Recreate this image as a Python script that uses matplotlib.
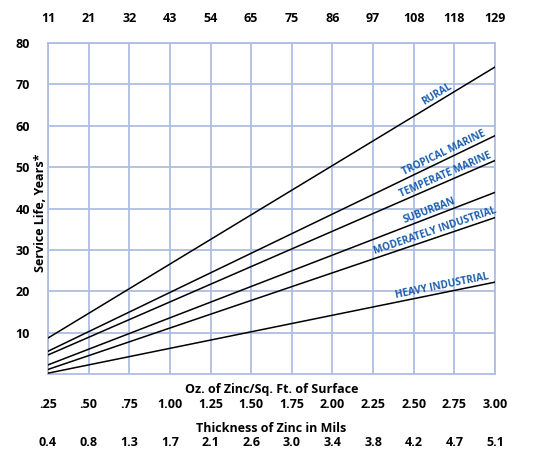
"""Service life of zinc coatings vs. coating weight."""

import matplotlib
matplotlib.use('Agg')
import matplotlib.pyplot as plt
import matplotlib.transforms as mtransforms
import numpy as np

# x positions: ounces of zinc per sq. ft.
oz = [0.25, 0.50, 0.75, 1.00, 1.25, 1.50, 1.75, 2.00, 2.25, 2.50, 2.75, 3.00]
oz_labels = ['.25', '.50', '.75', '1.00', '1.25', '1.50', '1.75', '2.00',
             '2.25', '2.50', '2.75', '3.00']
top_labels = ['11', '21', '32', '43', '54', '65', '75', '86', '97', '108',
              '118', '129']
mils_labels = ['0.4', '0.8', '1.3', '1.7', '2.1', '2.6', '3.0', '3.4', '3.8',
               '4.2', '4.7', '5.1']

# service life (years) at .25 and 3.00 oz
env_names = ['RURAL', 'TROPICAL MARINE', 'TEMPERATE MARINE', 'SUBURBAN',
             'MODERATELY INDUSTRIAL', 'HEAVY INDUSTRIAL']
life_start = [8.7, 5.5, 4.6, 2.2, 1.1, 0.2]
life_end = [74.2, 57.6, 51.6, 43.9, 37.8, 22.2]

y_ticks = [10, 20, 30, 40, 50, 60, 70, 80]

label_x = [2.66, 2.70, 2.71, 2.61, 2.64, 2.68]

grid_color = '#aebde2'
blue = '#1d5fae'
plt.rcParams['font.family'] = ['Open Sans', 'DejaVu Sans']
fs = 9

fig = plt.figure(figsize=(5.39, 4.53), dpi=100)
W, H = 539, 453
ax = fig.add_axes([48 / W, (H - 374) / H, (495 - 48) / W, (374 - 43) / H])
ax.set_xlim(0.25, 3.00)
ax.set_ylim(0, 80)

for x in oz:
    ax.axvline(x, color=grid_color, lw=1.3, zorder=1)
for y in y_ticks:
    ax.axhline(y, color=grid_color, lw=1.3, zorder=1)
for s in ax.spines.values():
    s.set_color(grid_color)
    s.set_linewidth(1.3)

xs = [oz[0], oz[-1]]
for name, y0, y1, lx in zip(env_names, life_start, life_end, label_x):
    ax.plot(xs, [y0, y1], color='black', lw=1.1, zorder=3)
    ly = y0 + (lx - xs[0]) / (xs[1] - xs[0]) * (y1 - y0)
    p0 = ax.transData.transform((xs[0], y0))
    p1 = ax.transData.transform((xs[1], y1))
    ang = np.degrees(np.arctan2(p1[1] - p0[1], p1[0] - p0[0]))
    ax.annotate(name, (lx, ly), xytext=(0, 1.0), textcoords='offset points',
                rotation=ang, rotation_mode='anchor', ha='center',
                va='bottom', color=blue, fontsize=7.2, fontweight='bold',
                zorder=4)

ax.set_yticks(y_ticks)
ax.set_yticklabels([str(v) for v in y_ticks], fontsize=fs, fontweight='bold')
ax.tick_params(axis='y', length=0, pad=13)

ax.set_xticks(oz)
ax.set_xticklabels(oz_labels, fontsize=fs, fontweight='bold')
ax.tick_params(axis='x', length=0, pad=17)

secax = ax.secondary_xaxis('top')
secax.set_xticks(oz)
secax.set_xticklabels(top_labels, fontsize=fs, fontweight='bold')
secax.tick_params(length=0, pad=13)
secax.spines['top'].set_visible(False)

trans = mtransforms.blended_transform_factory(ax.transAxes, fig.transFigure)
ax.text(0.5, 1 - 390 / H, 'Oz. of Zinc/Sq. Ft. of Surface', transform=trans,
        ha='center', va='center', fontsize=fs, fontweight='bold')
ax.text(0.5, 1 - 429 / H, 'Thickness of Zinc in Mils', transform=trans,
        ha='center', va='center', fontsize=fs, fontweight='bold')
trans_x = mtransforms.blended_transform_factory(ax.transData, fig.transFigure)
for x, lab in zip(oz, mils_labels):
    ax.text(x, 1 - 443 / H, lab, transform=trans_x, ha='center', va='center',
            fontsize=fs, fontweight='bold')

fig.text(41 / W, 1 - 213 / H, 'Service Life, Years*', rotation=90,
         ha='center', va='center', fontsize=fs, fontweight='bold')

fig.savefig('out.png', dpi=100)
